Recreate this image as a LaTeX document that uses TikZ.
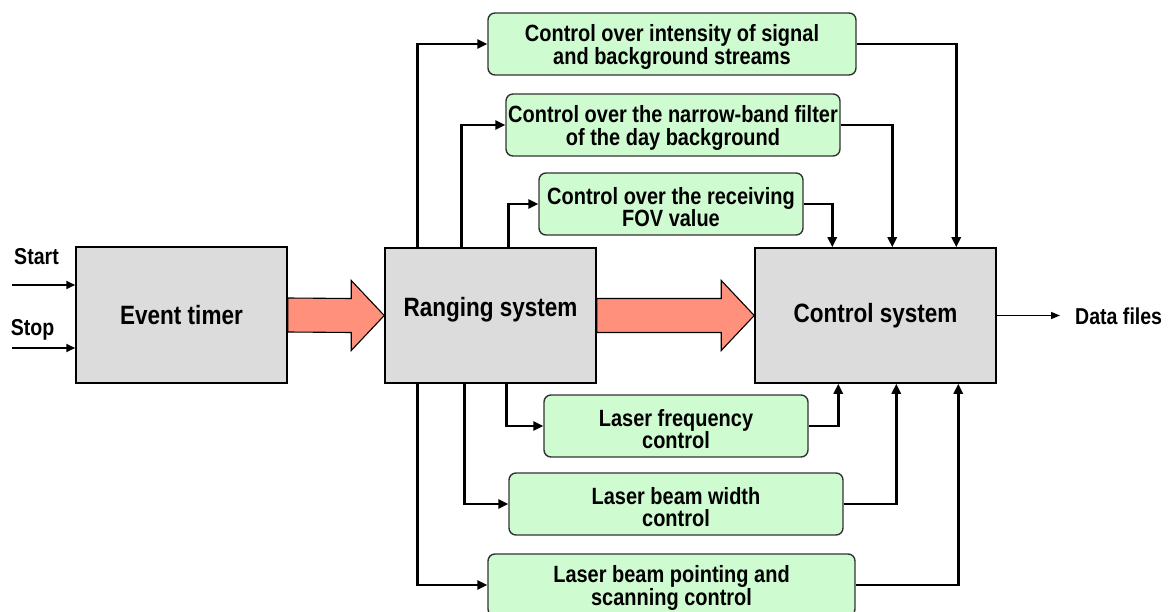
\documentclass[tikz,border=0pt]{standalone}
\usepackage{fontspec}
\newfontfamily\lbl{Liberation Sans}[FakeStretch=0.85]
\usetikzlibrary{arrows.meta,calc,backgrounds}
\definecolor{boxgray}{HTML}{DCDCDC}
\definecolor{boxgreen}{HTML}{CFFBD0}
\definecolor{fatred}{HTML}{FF917C}
\begin{document}
\begin{tikzpicture}[x=1pt,y=-1pt,
 graybox/.style={draw=black,line width=1.5pt,fill=boxgray,inner sep=0pt,font=\lbl\bfseries\fontsize{26.5}{28}\selectfont},
 greenbox/.style={draw=black!80,line width=1.4pt,fill=boxgreen,rounded corners=7pt,inner sep=0pt},
 gtext/.style={align=center,inner sep=0pt,yshift=-3pt,font=\lbl\bfseries\fontsize{23.5}{22.3}\selectfont},
 conn/.style={line width=2.8pt,-{Triangle[length=10pt,width=9pt]}},
 thinarrow/.style={line width=1.8pt,-{Triangle[length=9pt,width=8pt]}},
 dataarrow/.style={line width=1.5pt,-{Triangle[length=9pt,width=7pt]}},
 plainlbl/.style={font=\lbl\bfseries\fontsize{23}{24}\selectfont,inner sep=0pt},
 fatarrow/.style={fill=fatred,draw=black,line width=1.1pt,line join=miter}]
\useasboundingbox (0,0) rectangle (1170,612);

% main blocks
\node[graybox,minimum width=211pt,minimum height=136pt] (et) at (181.5,315) {Event timer};
\node[graybox,minimum width=211pt,minimum height=135pt] (rs) at (490.5,315.5) {\raisebox{6pt}[\height][\depth]{Ranging system}};
\node[graybox,minimum width=241pt,minimum height=135pt] (cs) at (875.5,315.5) {Control system};

% control blocks
\node[greenbox,minimum width=368pt,minimum height=62pt,label={[gtext]center:Control over intensity of signal\\and background streams}] (g1) at (672,44) {};
\node[greenbox,minimum width=334pt,minimum height=62pt,label={[gtext]center:Control over the narrow-band filter\\of the day background}] (g2) at (673,125) {};
\node[greenbox,minimum width=264pt,minimum height=62pt,label={[gtext]center:Control over the receiving\\FOV value}] (g3) at (671,204) {};
\node[greenbox,minimum width=264pt,minimum height=62pt,label={[gtext]center:Laser frequency\\control}] (g4) at (676,426) {};
\node[greenbox,minimum width=334pt,minimum height=62pt,label={[gtext]center:Laser beam width\\control}] (g5) at (676,504) {};
\node[greenbox,minimum width=367pt,minimum height=62pt,label={[gtext]center:Laser beam pointing and\\scanning control}] (g6) at (671.5,585) {};

% fat arrows
\begin{scope}[on background layer]
\draw[fatarrow] ($(et.east)+(0,-17)$) -- ($(rs.west)+(-33,-17)$) -- ($(rs.west)+(-33,-35)$) -- (rs.west)
  -- ($(rs.west)+(-33,35)$) -- ($(rs.west)+(-33,17)$) -- ($(et.east)+(0,17)$) -- cycle;
\draw[fatarrow] ($(rs.east)+(0,-17)$) -- ($(cs.west)+(-33,-17)$) -- ($(cs.west)+(-33,-35)$) -- (cs.west)
  -- ($(cs.west)+(-33,35)$) -- ($(cs.west)+(-33,17)$) -- ($(rs.east)+(0,17)$) -- cycle;
\end{scope}

% ranging system -> control blocks
\draw[conn] ($(rs.north west)+(33,0)$) |- (g1.west);
\draw[conn] ($(rs.north west)+(77,0)$) |- (g2.west);
\draw[conn] ($(rs.north west)+(124,0)$) |- (g3.west);
\draw[conn] ($(rs.south west)+(122,0)$) |- (g4.west);
\draw[conn] ($(rs.south west)+(80,0)$) |- (g5.west);
\draw[conn] ($(rs.south west)+(33,0)$) |- (g6.west);

% control blocks -> control system
\draw[conn] (g1.east) -| ($(cs.north west)+(202,0)$);
\draw[conn] (g2.east) -| ($(cs.north west)+(138,0)$);
\draw[conn] (g3.east) -| ($(cs.north west)+(78,0)$);
\draw[conn] (g4.east) -| ($(cs.south west)+(84,0)$);
\draw[conn] (g5.east) -| ($(cs.south west)+(142,0)$);
\draw[conn] (g6.east) -| ($(cs.south west)+(204,0)$);

% inputs and output
\coordinate (startin) at (12,285);
\coordinate (stopin) at (12,348);
\draw[thinarrow] (startin) -- (startin -| et.west);
\draw[thinarrow] (stopin) -- (stopin -| et.west);
\node[plainlbl,anchor=base] (startlbl) at (36.5,265) {Start};
\node[plainlbl,anchor=base] (stoplbl) at (32.5,336) {Stop};
\coordinate (dataend) at (1060,315.5);
\draw[dataarrow] (cs.east) -- (dataend);
\node[plainlbl,anchor=base west] (datalbl) at (1075,325) {Data files};
\end{tikzpicture}
\end{document}
